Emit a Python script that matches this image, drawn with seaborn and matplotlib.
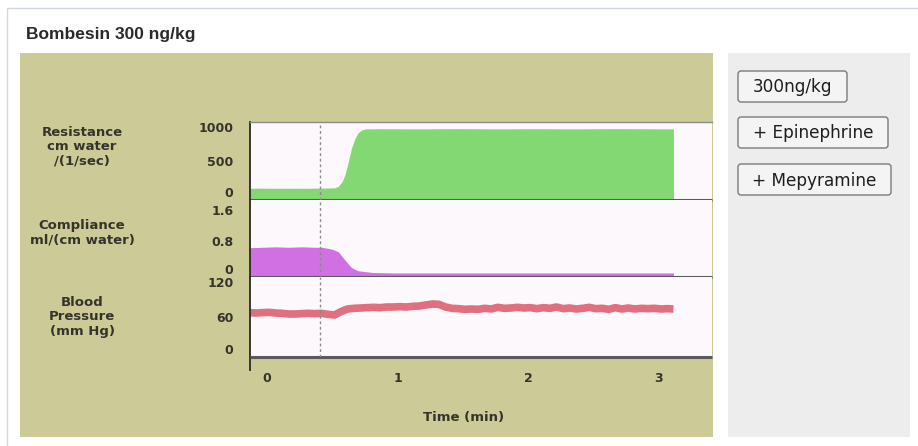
import matplotlib
matplotlib.use("Agg")
import matplotlib.pyplot as plt
import seaborn as sns
import pandas as pd
from matplotlib.patches import Rectangle, FancyBboxPatch

# ---- recorded traces ----
res_time = [-0.10, 0.00, 0.10, 0.20, 0.30, 0.40, 0.50, 0.55, 0.58, 0.61, 0.63, 0.655,
            0.68, 0.705, 0.73, 0.76, 0.79, 0.90, 1.20, 1.50, 1.80, 2.10, 2.40, 2.70,
            3.00, 3.145]
res_value = [150, 152, 150, 151, 150, 152, 154, 156, 175, 240, 320, 480,
             660, 780, 860, 900, 912, 914, 912, 915, 912, 914, 912, 915,
             913, 912]

comp_time = [-0.10, 0.00, 0.10, 0.20, 0.30, 0.40, 0.455, 0.53, 0.58, 0.63, 0.68,
             0.73, 0.84, 1.00, 1.50, 2.00, 2.50, 3.00, 3.145]
comp_value = [0.65, 0.66, 0.67, 0.66, 0.67, 0.66, 0.66, 0.62, 0.56, 0.38, 0.21,
              0.14, 0.10, 0.09, 0.09, 0.09, 0.09, 0.09, 0.09]

bp_time = [-0.10, -0.05, 0.00, 0.05, 0.10, 0.15, 0.20, 0.25, 0.30, 0.35, 0.40,
           0.45, 0.50, 0.55, 0.60, 0.65, 0.70, 0.75, 0.80, 0.85, 0.90, 0.95,
           1.00, 1.05, 1.10, 1.15, 1.20, 1.25, 1.30, 1.35, 1.40, 1.45, 1.50,
           1.55, 1.60, 1.65, 1.70, 1.75, 1.80, 1.85, 1.90, 1.95, 2.00, 2.05,
           2.10, 2.15, 2.20, 2.25, 2.30, 2.35, 2.40, 2.45, 2.50, 2.55, 2.60,
           2.65, 2.70, 2.75, 2.80, 2.85, 2.90, 2.95, 3.00, 3.05, 3.10, 3.145]
bp_value = [66.5, 66, 66.5, 67, 66, 65.5, 64.5, 64.5, 65, 65.5, 65,
            65.5, 64, 63, 68, 72, 73, 73.5, 74, 74.5, 74, 75,
            75, 75.5, 75, 76, 76.5, 78, 79.5, 79, 75, 73, 72.5,
            71.5, 72, 71.5, 73, 72, 74.5, 73, 73.5, 74.5, 73.5, 74,
            72.5, 74, 73, 75, 72.5, 73.5, 72, 73, 74.5, 72.5, 73,
            71.5, 74, 72, 73.5, 72, 73, 72.5, 73, 72, 72.5, 72]

injection_time = 0.44
x_ticks = [0, 1, 2, 3]
res_ticks = [0, 500, 1000]
comp_ticks = [0, 0.8, 1.6]
bp_ticks = [0, 60, 120]
buttons = ["300ng/kg", "+ Epinephrine", "+ Mepyramine"]

sns.set_style("white")
plt.rcParams["font.family"] = ["DejaVu Sans"]

W, H = 918, 446
fig = plt.figure(figsize=(W / 100, H / 100), dpi=100)
fig.patch.set_facecolor("white")

OLIVE = "#cccb98"
PLOT_BG = "#fdf8fc"
GREEN = "#84d873"
PURPLE = "#d070e2"
RED = "#e0707f"
TXT = "#34342a"
LAB_FS = 9.5
TICK_FS = 9

# background layer in pixel coordinates
bg = fig.add_axes([0, 0, 1, 1], zorder=-1)
bg.set_xlim(0, W)
bg.set_ylim(H, 0)
bg.axis("off")
bg.plot([7, 7, W], [H, 8, 8], color="#d0d7e0", lw=1)
bg.add_patch(Rectangle((20, 53), 693, 384, facecolor=OLIVE, edgecolor="none"))
bg.add_patch(Rectangle((728, 53), 182, 384, facecolor="#ededed", edgecolor="none"))
bg.text(26, 35, "Bombesin 300 ng/kg", fontsize=12.5, fontweight="bold",
        family=["Liberation Sans"], color="#2a2a2a", va="center", ha="left")

btn_boxes = [(738, 71, 109, 31), (738, 117, 150, 31), (738, 164, 153, 31)]
for label, (bx, by, bw, bh) in zip(buttons, btn_boxes):
    bg.add_patch(FancyBboxPatch((bx, by), bw, bh,
                                boxstyle="round,pad=0,rounding_size=3",
                                facecolor="#f4f4f4", edgecolor="#7a7a7a", lw=1))
    bg.text(bx + bw / 2, by + bh / 2 + 1, label, fontsize=12.2, color="#1e1e1e",
            ha="center", va="center")

side_labels = [("Resistance\ncm water\n/(1/sec)", 147),
               ("Compliance\nml/(cm water)", 233),
               ("Blood\nPressure\n(mm Hg)", 317)]
for text, yc in side_labels:
    bg.text(82, yc, text, fontsize=LAB_FS, fontweight="bold", color=TXT,
            ha="center", va="center", multialignment="center", linespacing=1.15)
bg.text(464, 417, "Time (min)", fontsize=LAB_FS, fontweight="bold", color=TXT,
        ha="center", va="center")

# data panels
x0, x1 = 250, 712
rows = [(122, 200), (200, 277), (277, 357)]
axes = []
for top, bot in rows:
    ax = fig.add_axes([x0 / W, 1 - bot / H, (x1 - x0) / W, (bot - top) / H])
    ax.set_facecolor(PLOT_BG)
    ax.set_xlim(-0.096, 3.44)
    axes.append(ax)
ax_r, ax_c, ax_b = axes

ax_r.fill_between(res_time, 0, res_value, color=GREEN, lw=0)
ax_r.set_ylim(0, 1000)
ax_r.set_yticks(res_ticks)

ax_c.fill_between(comp_time, 0, comp_value, color=PURPLE, lw=0)
ax_c.set_ylim(0, 1.71)
ax_c.set_yticks(comp_ticks)
ax_c.set_yticklabels(["0", "0.8", "1.6"])

bp_df = pd.DataFrame({"time": bp_time, "pressure": bp_value})
sns.lineplot(data=bp_df, x="time", y="pressure", ax=ax_b, color=RED, lw=5.5,
             solid_capstyle="butt")
ax_b.set_ylim(0, 120)
ax_b.set_yticks(bp_ticks)
ax_b.set_xlabel("")
ax_b.set_ylabel("")

for i, ax in enumerate(axes):
    ax.axvline(injection_time, color="#8a8a8a", lw=1, ls=(0, (2, 2)), zorder=3)
    for side in ["top", "right"]:
        ax.spines[side].set_visible(False)
    ax.spines["bottom"].set_color("#5a5a5a")
    ax.spines["bottom"].set_linewidth(2.2)
    ax.spines["bottom"].set_capstyle("butt")
    ax.spines["left"].set_color("#2a2a2a")
    ax.spines["left"].set_linewidth(1.3)
    ax.tick_params(axis="y", direction="out", length=6, width=1.2, color="#333333",
                   labelsize=TICK_FS, labelcolor=TXT, pad=6)
    for lab in ax.get_yticklabels():
        lab.set_fontweight("bold")
    labs = ax.get_yticklabels()
    labs[0].set_va("bottom")
    labs[-1].set_va("top")
    if i < 2:
        ax.set_xticks([])
ax_r.spines["top"].set_visible(True)
ax_r.spines["top"].set_color("#8a8a8a")
ax_r.spines["top"].set_linewidth(1)

ax_b.spines["left"].set_bounds(-19, 120)
ax_b.set_xticks(x_ticks)
ax_b.set_xticklabels([str(v) for v in x_ticks])
ax_b.tick_params(axis="x", direction="out", length=8, width=1.2, color="#333333",
                 labelsize=TICK_FS, labelcolor=TXT, pad=3)
for lab in ax_b.get_xticklabels():
    lab.set_fontweight("bold")
    lab.set_ha("left")
ax_b.xaxis.get_major_ticks()[0].tick1line.set_visible(False)

fig.savefig("out.png", dpi=100)
